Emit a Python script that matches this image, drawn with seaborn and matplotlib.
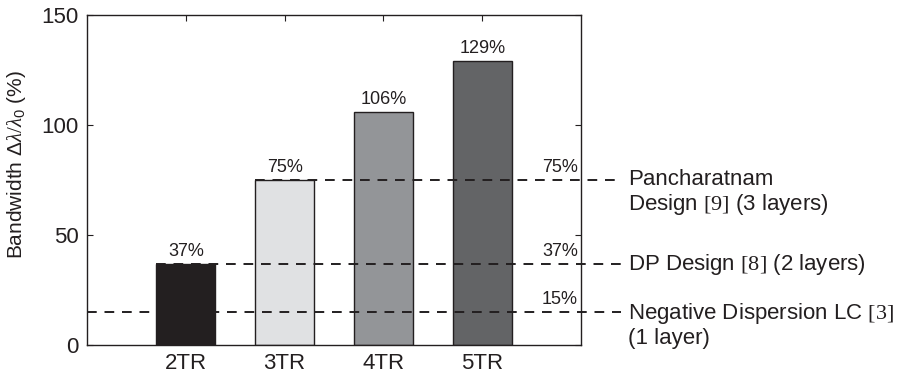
import matplotlib
matplotlib.use("Agg")
import matplotlib.pyplot as plt
import seaborn as sns
import pandas as pd

categories = ["2TR", "3TR", "4TR", "5TR"]
bandwidth = [37, 75, 106, 129]
bar_colors = ["#231f20", "#e0e1e3", "#939598", "#636466"]
ref_values = [75, 37, 15]
ref_labels = ["Pancharatnam\nDesign $\\mathrm{[9]}$ (3 layers)",
              "DP Design $\\mathrm{[8]}$ (2 layers)",
              "Negative Dispersion LC $\\mathrm{[3]}$\n(1 layer)"]
ref_start = [0.7, -0.3, -1.0]  # x-start of each reference line in category units
yticks = [0, 50, 100, 150]

sns.set_theme(style="white")
plt.rcParams["font.family"] = ["Liberation Sans", "DejaVu Sans"]
plt.rcParams["mathtext.fontset"] = "custom"
plt.rcParams["mathtext.rm"] = "Liberation Serif"
plt.rcParams["mathtext.it"] = "Liberation Serif:italic"
plt.rcParams["mathtext.sf"] = "Liberation Sans"

df = pd.DataFrame({"cat": categories, "bw": bandwidth})

fig = plt.figure(figsize=(9.04, 3.74), dpi=100)
ax = fig.add_axes([87/904, 1-345/374, (581-87)/904, (345-15)/374])

sns.barplot(data=df, x="cat", y="bw", hue="cat", palette=bar_colors,
            width=0.6, edgecolor="#231f20", linewidth=1.0, legend=False,
            saturation=1, ax=ax)

ax.set_xlim(-1, 4)
ax.set_ylim(0, 150)
ax.set_yticks(yticks)
ax.set_xlabel("")
ax.set_ylabel("Bandwidth $\\mathsf{\\Delta}\\lambda/\\lambda_{\\mathsf{0}}$ (%)", fontsize=15,
              color="#231f20")
ax.yaxis.set_label_coords(-0.119, 0.545)
ax.tick_params(axis="both", direction="in", length=4, width=0.8, labelsize=16,
               colors="#231f20", top=True, right=True, bottom=True, left=True, pad=6)
for s in ax.spines.values():
    s.set_color("#231f20")
    s.set_linewidth(1.0)
    s.set_visible(True)

for i, v in enumerate(bandwidth):
    ax.text(i, v + 1.8, f"{v}%", ha="center", va="bottom", fontsize=13, color="#231f20")

x_end = 4.40
for v, lab, xs in zip(ref_values, ref_labels, ref_start):
    ax.plot([xs, x_end], [v, v], color="#231f20", lw=1.4,
            linestyle=(0, (5, 4)), clip_on=False, zorder=5)
    ax.text(3.97, v + 1.8, f"{v}%", ha="right", va="bottom", fontsize=13, color="#231f20")
    ax.annotate(lab, xy=(4.48, v), xycoords="data", xytext=(0, 8),
                textcoords="offset points", ha="left", va="top",
                fontsize=16, color="#231f20", annotation_clip=False,
                linespacing=1.12)

fig.savefig("out.png", dpi=100)
